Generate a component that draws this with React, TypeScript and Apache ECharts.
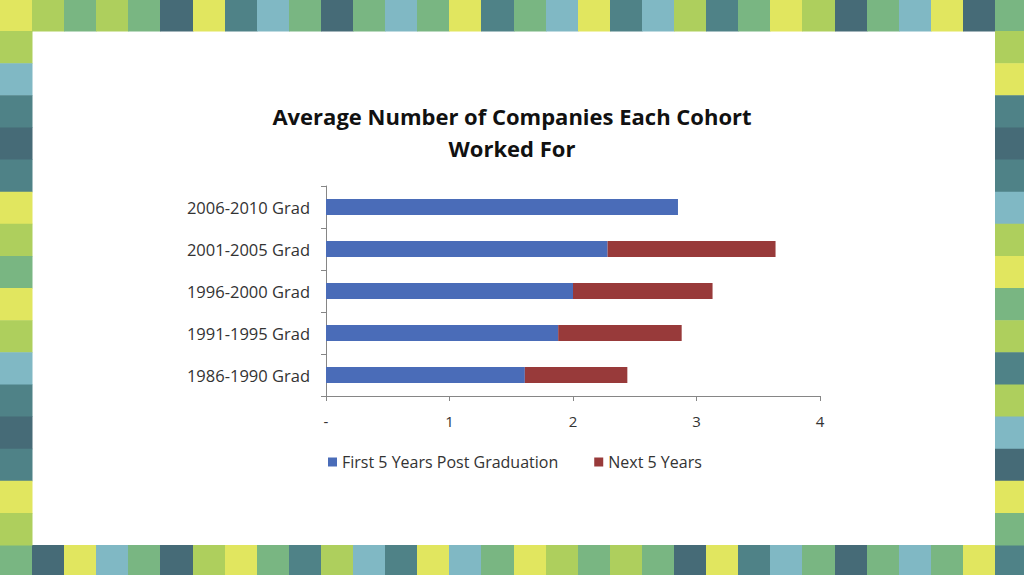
import React, { useEffect, useRef } from "react";
import * as echarts from "echarts";

const categories = ["1986-1990 Grad", "1991-1995 Grad", "1996-2000 Grad", "2001-2005 Grad", "2006-2010 Grad"];
const firstFiveYears = [1.61, 1.88, 2.0, 2.28, 2.85];
const nextFiveYears = [0.83, 1.0, 1.13, 1.36, 0];
const xTickLabels = ["-", "1", "2", "3", "4"];
const seriesNames = ["First 5 Years Post Graduation", "Next 5 Years"];
const titleLines = ["Average Number of Companies Each Cohort", "Worked For"];

const palette: Record<string, string> = {
  Y: "#e1e65f",
  L: "#aecf5d",
  G: "#79b682",
  D: "#466b77",
  T: "#4f8287",
  B: "#80b8c4",
};
const topRow = "YLGLGDYTBGDGBGYTGBYTBLTGYLDGBYDG".split("");
const bottomRow = "GDYBGDLYGTLBTYBGYLGLGDYTBGDGBGYT".split("");
const leftCol = "LBTDTYLGYLBTDTYL".split("");
const rightCol = "LYTDTBLYGLTLBDYG".split("");

const FONT = "'Open Sans', sans-serif";

function colX(i: number) {
  if (i >= 32) return 1024;
  return Math.round((i * 995) / 31);
}
function rowY(j: number) {
  if (j <= 0) return 0;
  if (j >= 18) return 575;
  return 31 + ((j - 1) * 514) / 16;
}

function buildTiles() {
  const els: any[] = [];
  const tile = (i: number, j: number, code: string) => {
    const x0 = colX(i);
    const x1 = colX(i + 1);
    const y0 = rowY(j);
    const y1 = rowY(j + 1);
    els.push({
      type: "rect",
      silent: true,
      shape: { x: x0, y: y0, width: x1 - x0 + 0.5, height: y1 - y0 + 0.5 },
      style: { fill: palette[code] },
    });
  };
  topRow.forEach((c, i) => tile(i, 0, c));
  bottomRow.forEach((c, i) => tile(i, 17, c));
  leftCol.forEach((c, k) => tile(0, k + 1, c));
  rightCol.forEach((c, k) => tile(31, k + 1, c));
  return els;
}

export default function App() {
  const ref = useRef<HTMLDivElement>(null);
  useEffect(() => {
    if (!ref.current) return;
    const chart = echarts.init(ref.current, undefined, { renderer: "svg" });
    chart.setOption({
      animation: false,
      backgroundColor: "#ffffff",
      title: {
        text: titleLines.join("\n"),
        left: "center",
        top: 100,
        padding: 0,
        textStyle: {
          fontFamily: FONT,
          fontSize: 22,
          fontWeight: "bold",
          color: "#111",
          lineHeight: 32,
        },
      },
      legend: {
        left: 328,
        top: 454,
        padding: 0,
        icon: "rect",
        itemWidth: 9,
        itemHeight: 9,
        itemGap: 36,
        data: seriesNames,
        textStyle: { fontFamily: FONT, fontSize: 16, color: "#333" },
      },
      grid: { left: 326, right: 204, top: 186, bottom: 179 },
      xAxis: {
        type: "value",
        min: 0,
        max: 4,
        interval: 1,
        splitLine: { show: false },
        axisLine: { show: true, lineStyle: { color: "#868686" } },
        axisTick: { show: true, length: 5, lineStyle: { color: "#868686" } },
        axisLabel: {
          margin: 17,
          fontFamily: FONT,
          fontSize: 15,
          color: "#333",
          formatter: (v: number) => xTickLabels[Math.round(v)] ?? "",
        },
      },
      yAxis: {
        type: "category",
        data: categories,
        axisLine: { show: true, lineStyle: { color: "#868686" } },
        axisTick: { show: true, length: 5, lineStyle: { color: "#868686" } },
        axisLabel: { margin: 16, fontFamily: FONT, fontSize: 16.5, color: "#333" },
      },
      series: [
        {
          name: seriesNames[0],
          type: "bar",
          stack: "total",
          barWidth: 16,
          itemStyle: { color: "#4a6cb8" },
          data: firstFiveYears,
        },
        {
          name: seriesNames[1],
          type: "bar",
          stack: "total",
          barWidth: 16,
          itemStyle: { color: "#983a3a" },
          data: nextFiveYears,
        },
      ],
      graphic: buildTiles(),
    });
    return () => chart.dispose();
  }, []);
  return (
    <div
      ref={ref}
      style={{ position: "fixed", left: 0, top: 0, width: 1024, height: 575 }}
    />
  );
}
